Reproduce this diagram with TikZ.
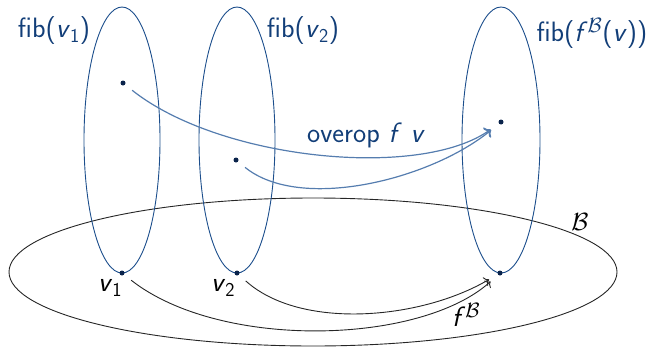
\documentclass[tikz,border=0pt]{standalone}
\usepackage{fontspec}
\definecolor{fibblue}{RGB}{28,78,140}
\definecolor{txtblue}{RGB}{18,62,120}
\definecolor{arrblue}{RGB}{85,125,175}
\definecolor{dotblue}{RGB}{10,35,75}
\tikzset{
  fib/.style={draw=fibblue, line width=0.9pt},
  base/.style={draw=black!85, line width=0.9pt},
  dotnode/.style={circle, fill=dotblue, inner sep=0pt, minimum size=5pt},
  uparr/.style={draw=arrblue, line width=1.2pt, -{To[scale=1.3]}, shorten <=9pt, shorten >=10pt},
  lowarr/.style={draw=black!85, line width=0.9pt, -{To[scale=1.3]}, shorten <=9pt, shorten >=10pt},
  fiblabel/.style={text=txtblue, inner sep=0pt},
  blabel/.style={text=black, inner sep=0pt}
}
\usetikzlibrary{arrows.meta}
\begin{document}
\begin{tikzpicture}[x=1pt,y=-1pt,font=\sffamily\fontsize{28}{33}\selectfont]
\useasboundingbox (0,0) rectangle (655,348);
% base ellipse
\draw[base] (313,272) ellipse [x radius=304, y radius=74];
% fibres
\draw[fib] (122,140) ellipse [x radius=38, y radius=133];
\draw[fib] (237,140) ellipse [x radius=38, y radius=133];
\draw[fib] (501,140) ellipse [x radius=39, y radius=133];
% dots
\node[dotnode] (a1) at (123,83) {};
\node[dotnode] (a2) at (236,160) {};
\node[dotnode] (a3) at (501,122) {};
\node[dotnode] (v1) at (122,273) {};
\node[dotnode] (v2) at (237,273) {};
\node[dotnode] (v3) at (500,273) {};
% upper arrows
\draw[uparr] (a1) .. controls (220,160) and (420,180) .. (a3);
\draw[uparr] (a2) .. controls (300,212) and (430,180) .. (a3);
% lower arrows
\draw[lowarr] (v1) .. controls (220,350) and (420,345) .. (v3);
\draw[lowarr] (v2) .. controls (300,330) and (420,320) .. (v3);
% labels
\node[fiblabel] (l1) at (54,31) {fib(\textit{v}$_{\mathsf{1}}$)};
\node[fiblabel] (l2) at (303,31) {fib(\textit{v}$_{\mathsf{2}}$)};
\node[fiblabel] (l3) at (592,33) {fib(\textit{f}$^{\mathcal{B}}$(\textit{v}))};
\node[fiblabel] (lo) at (366,135) {overop \textit{f} \textit{v}};
\node[blabel] (lb) at (580,222) {$\mathcal{B}$};
\node[blabel] (lv1) at (110,288) {\textit{v}$_{\mathsf{1}}$};
\node[blabel] (lv2) at (223,288) {\textit{v}$_{\mathsf{2}}$};
\node[blabel] (lf) at (466,315) {\textit{f}$^{\mathcal{B}}$};
\end{tikzpicture}
\end{document}
